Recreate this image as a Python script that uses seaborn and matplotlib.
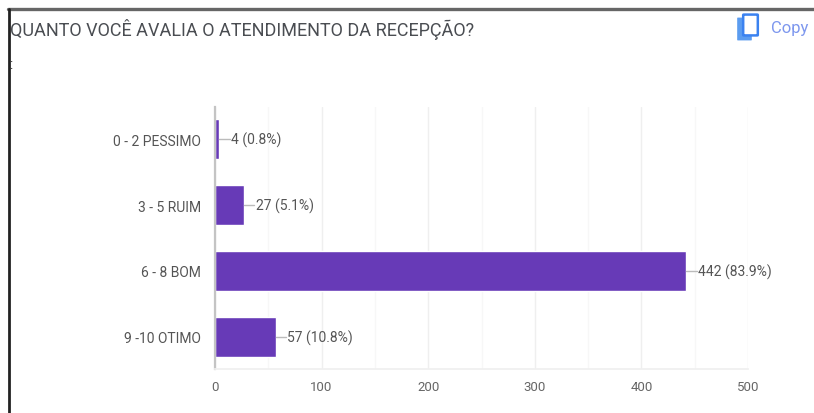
"""bar chart for the reception service survey"""

import matplotlib.pyplot as plt
import pandas as pd
import seaborn as sns
from matplotlib.lines import Line2D
from matplotlib.patches import FancyBboxPatch

CATEGORIES = ["0 - 2 PESSIMO", "3 - 5 RUIM", "6 - 8 BOM", "9 -10 OTIMO"]
VOTES = [4, 27, 442, 57]
VALUE_LABELS = ["4 (0.8%)", "27 (5.1%)", "442 (83.9%)", "57 (10.8%)"]
X_TICKS = [0, 100, 200, 300, 400, 500]
X_MINOR_TICKS = [50, 150, 250, 350, 450]
TITLE = "QUANTO VOCÊ AVALIA O ATENDIMENTO DA RECEPÇÃO?"

W, H = 814, 414


def fx(px):
    return px / W


def fy(py):
    return 1 - py / H


def survey_graph():
    """horizontal bars with the google forms look"""
    df = pd.DataFrame({"Resposta": CATEGORIES, "Votos": VOTES})

    sns.set_theme(style="white")
    plt.rcParams["font.family"] = ["Roboto", "DejaVu Sans"]

    fig = plt.figure(figsize=(W / 100, H / 100), dpi=100)
    ax = fig.add_axes([fx(215), fy(370), fx(748) - fx(215), fy(108) - fy(370)])

    sns.barplot(data=df, x="Votos", y="Resposta", color="#673ab7", saturation=1,
                width=0.61, ax=ax)

    ax.set_xlim(0, 500)
    ax.set_xlabel("")
    ax.set_ylabel("")
    ax.set_xticks(X_TICKS)
    ax.set_xticks(X_MINOR_TICKS, minor=True)
    ax.grid(True, axis="x", which="major", color="#efefef", lw=1)
    ax.grid(True, axis="x", which="minor", color="#f7f7f7", lw=1)
    ax.set_axisbelow(True)
    ax.tick_params(axis="x", which="both", length=0, pad=8, labelsize=9.5,
                   labelcolor="#666666")
    ax.tick_params(axis="y", length=0, pad=10, labelsize=10, labelcolor="#555555")

    sns.despine(ax=ax, top=True, right=True, left=False, bottom=False)
    ax.spines["left"].set_color("#c4c4c4")
    ax.spines["left"].set_linewidth(1.6)
    ax.spines["bottom"].set_color("#f0f0f0")

    # leader line and value label next to each bar
    for i, (votes, label) in enumerate(zip(VOTES, VALUE_LABELS)):
        ax.plot([votes, votes + 10], [i, i], color="#bbbbbb", lw=1, zorder=3)
        ax.text(votes + 11, i, label, va="center", ha="left", fontsize=10,
                color="#555555")

    # screenshot frame
    fig.add_artist(Line2D([fx(8), 1], [fy(10), fy(10)], color="#666666", lw=2.4))
    fig.add_artist(Line2D([fx(9), fx(9)], [fy(10), 0], color="#222222", lw=2))

    fig.text(fx(10), fy(30), TITLE, fontsize=13, color="#4a4d52", va="center",
             ha="left")
    fig.text(fx(9), fy(65), ":", fontsize=10, color="#444444", va="center", ha="left")

    # copy button
    fig.add_artist(FancyBboxPatch((fx(738), fy(41)), fx(13), fy(19) - fy(41),
                                  boxstyle="round,pad=0.001", fc="#5b9cf0", ec="none"))
    fig.add_artist(FancyBboxPatch((fx(744), fy(36)), fx(13), fy(16) - fy(36),
                                  boxstyle="round,pad=0.001", fc="white",
                                  ec="#3b82f0", lw=1.8))
    fig.text(fx(771), fy(29), "Copy", fontsize=12, color="#7d97ee", va="center",
             ha="left")

    fig.savefig("out.png", dpi=100)
    plt.close(fig)


survey_graph()
